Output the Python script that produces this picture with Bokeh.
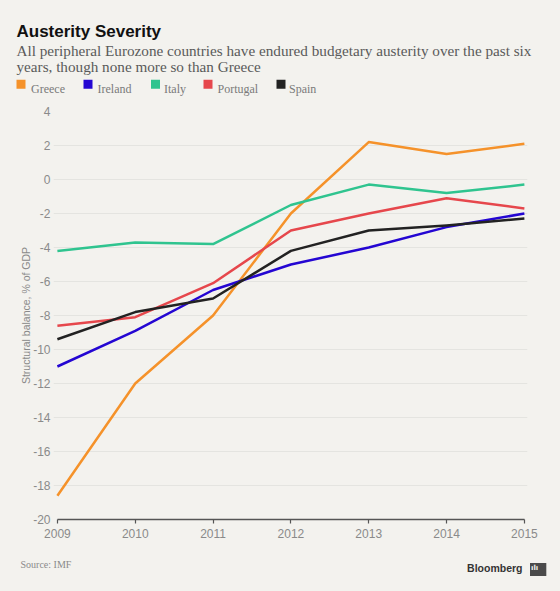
from bokeh.plotting import figure
from bokeh.models import Range1d, FixedTicker, Label
from bokeh.layouts import column
from bokeh.embed import file_html
from bokeh.resources import INLINE

# ---- data ----
years = [2009, 2010, 2011, 2012, 2013, 2014, 2015]
greece = [-18.6, -12.0, -8.0, -2.0, 2.2, 1.5, 2.1]
ireland = [-11.0, -8.9, -6.5, -5.0, -4.0, -2.8, -2.0]
italy = [-4.2, -3.7, -3.8, -1.5, -0.3, -0.8, -0.3]
portugal = [-8.6, -8.1, -6.1, -3.0, -2.0, -1.1, -1.7]
spain = [-9.4, -7.8, -7.0, -4.2, -3.0, -2.7, -2.3]
series_names = ["Greece", "Ireland", "Italy", "Portugal", "Spain"]
series_colors = ["#f5922a", "#2406d2", "#2fc48f", "#e6474c", "#222222"]
y_ticks = list(range(-20, 5, 2))

title_text = "Austerity Severity"
subtitle_lines = ["All peripheral Eurozone countries have endured budgetary austerity over the past six",
                  "years, though none more so than Greece"]
y_title = "Structural balance, % of GDP"
source_text = "Source: IMF"
brand_text = "Bloomberg"

BG = "#f3f2ee"
W = 560
HEAD_H, MAIN_H, FOOT_H = 100, 448, 43


def blank(height, y0):
    f = figure(width=W, height=height, output_backend="svg", toolbar_location=None,
               x_range=Range1d(0, W), y_range=Range1d(y0 + height, y0),
               x_axis_location=None, y_axis_location=None, min_border=0,
               background_fill_color=BG, border_fill_color=BG, outline_line_color=None,
               frame_align=False)
    f.grid.visible = False
    return f


def txt(f, x, y, text, font, size, color, style="normal", align="left"):
    f.add_layout(Label(x=x, y=y, text=text, text_font=font, text_font_size=size,
                       text_color=color, text_font_style=style, text_align=align,
                       text_baseline="alphabetic"))


# ---- header ----
head = blank(HEAD_H, 0)
txt(head, 16, 31, title_text, "Liberation Sans", "17px", "#111111", style="bold")
txt(head, 16, 50, subtitle_lines[0], "Liberation Serif", "15.2px", "#5a5a5a")
txt(head, 16, 66, subtitle_lines[1], "Liberation Serif", "15.2px", "#5a5a5a")
sq_x = [16, 83, 150.5, 203, 276]
tx_x = [30.5, 97, 163.5, 217, 288.5]
head.rect(x=[a + 4.5 for a in sq_x], y=[83.8] * 5, width=9, height=9,
          fill_color=series_colors, line_color=None)
for name, b in zip(series_names, tx_x):
    txt(head, b, 88, name, "Liberation Serif", "12px", "#7a7a7a")

# ---- main chart ----
p = figure(width=W, height=MAIN_H, output_backend="svg", toolbar_location=None,
           x_range=Range1d(2008.95, 2015.04), y_range=Range1d(-20, 4),
           min_border_left=53, min_border_right=33, min_border_top=11,
           min_border_bottom=29, background_fill_color=BG, border_fill_color=BG,
           outline_line_color=None, frame_align=False)

for vals, col in zip([greece, ireland, italy, portugal, spain], series_colors):
    p.line(years, vals, line_color=col, line_width=2.5, line_join="round")

xa = p.xaxis[0]
xa.ticker = FixedTicker(ticks=years)
xa.bounds = (years[0], years[-1])
xa.axis_line_color = "#555555"
xa.axis_line_width = 1.5
xa.major_tick_line_color = "#555555"
xa.major_tick_line_width = 1.2
xa.major_tick_out = 4
xa.major_tick_in = 0
xa.minor_tick_line_color = None
xa.major_label_text_font = "Liberation Sans"
xa.major_label_text_font_size = "12px"
xa.major_label_text_color = "#8a8a8a"
xa.major_label_standoff = 5

ya = p.yaxis[0]
ya.ticker = FixedTicker(ticks=y_ticks)
ya.major_label_overrides = {t: str(t) for t in y_ticks}
ya.axis_line_color = None
ya.major_tick_line_color = None
ya.minor_tick_line_color = None
ya.major_label_text_font = "Liberation Sans"
ya.major_label_text_font_size = "12px"
ya.major_label_text_color = "#8a8a8a"
ya.major_label_standoff = -3
ya.axis_label = y_title
ya.axis_label_text_font = "Liberation Sans"
ya.axis_label_text_font_style = "normal"
ya.axis_label_text_font_size = "10.5px"
ya.axis_label_text_color = "#8a8a8a"
ya.axis_label_standoff = -2

p.xgrid.grid_line_color = None
p.ygrid.grid_line_color = "#e4e4e0"
p.ygrid.grid_line_width = 1

# ---- footer ----
foot = blank(FOOT_H, HEAD_H + MAIN_H)
txt(foot, 20, 564, source_text, "Liberation Serif", "10px", "#8a8a8a")
txt(foot, 522, 567.5, brand_text, "Liberation Sans", "10.5px", "#333333", style="bold", align="right")
foot.add_layout(Label(x=529.5, y=569, text="\u258C\u2590", text_font="DejaVu Sans",
                      text_font_size="8px", text_color="#4a4a4a", background_fill_color="#4a4a4a",
                      text_baseline="alphabetic", padding=2))
foot.add_layout(Label(x=530.5, y=567.5, text="\u0131l\u0131", text_font="DejaVu Sans",
                      text_font_size="7px", text_color=BG, text_font_style="bold",
                      text_baseline="alphabetic"))

layout = column(head, p, foot, spacing=0)
html = file_html(layout, INLINE, title=title_text)
html = html.replace("<head>", "<head><style>body{background:#f3f2ee;}</style>", 1)
open("out.html", "w").write(html)
